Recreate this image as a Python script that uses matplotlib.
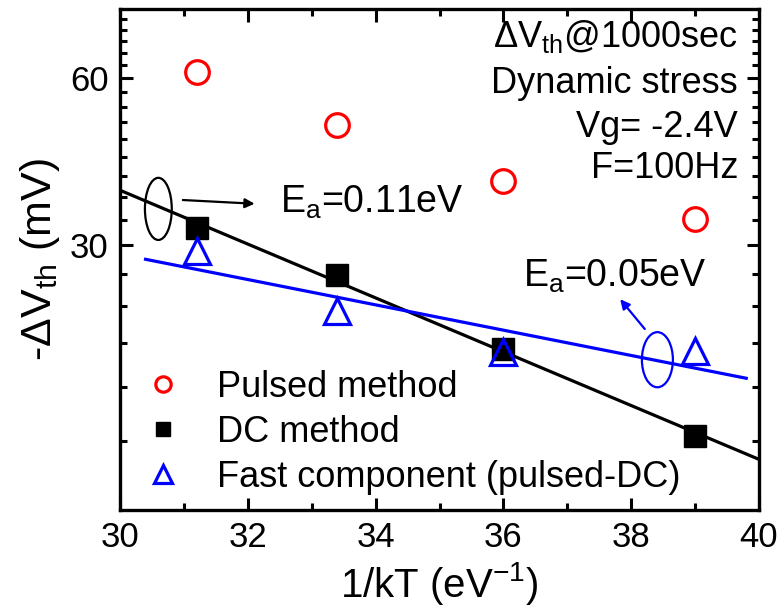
import matplotlib
matplotlib.use("Agg")
import matplotlib.pyplot as plt
import numpy as np
from matplotlib.patches import Ellipse
from matplotlib.ticker import FixedLocator, FixedFormatter, NullFormatter

plt.rcParams['font.family'] = ['Liberation Sans', 'DejaVu Sans']
plt.rcParams['mathtext.default'] = 'regular'

# 1/kT values (eV^-1)
inv_kT = [31.2, 33.4, 36.0, 39.0]
# -dVth at 1000 s (mV)
pulsed = [61.6, 49.4, 39.2, 33.4]
dc = [32.2, 26.5, 19.5, 13.6]
fast = [29.3, 22.8, 19.3, 19.35]

labels = ['Pulsed method', 'DC method', 'Fast component (pulsed-DC)']
info_lines = [r'$\Delta$V$_{th}$@1000sec', 'Dynamic stress', 'Vg= -2.4V', 'F=100Hz']

fig = plt.figure(figsize=(7.8, 6.1), dpi=100)
ax = fig.add_axes([120 / 780, 100 / 610, 639 / 780, 501 / 610])

# Arrhenius fits: ln(dVth) = a - Ea * (1/kT)
x = np.array(inv_kT)
p_dc = np.polyfit(x, np.log(dc), 1)
p_fast = np.polyfit(x, np.log(fast), 1)
xl_dc = np.linspace(30, 40, 50)
xl_fast = np.linspace(30.4, 39.8, 50)
ax.plot(xl_dc, np.exp(np.polyval(p_dc, xl_dc)), color='black', lw=2.3, zorder=2)
ax.plot(xl_fast, np.exp(np.polyval(p_fast, xl_fast)), color='#0000ff', lw=2.3, zorder=2)

ax.plot(inv_kT, pulsed, 'o', ms=17, mfc='none', mec='#ff0000', mew=2.3,
        ls='none', label=labels[0], zorder=3)
ax.plot(inv_kT, dc, 's', ms=16, color='black', ls='none', label=labels[1], zorder=3)
ax.plot(inv_kT, fast, '^', ms=19, mfc='none', mec='#0000ff', mew=2.3,
        ls='none', label=labels[2], zorder=4)

ax.set_yscale('log')
ax.set_xlim(30, 40)
ax.set_ylim(10, 80)
ax.set_xticks(np.arange(30, 41, 2))
ax.set_xticks(np.arange(31, 40, 2), minor=True)
ax.yaxis.set_major_locator(FixedLocator([30, 60]))
ax.yaxis.set_major_formatter(FixedFormatter(['30', '60']))
minor_y = [v for v in np.arange(10 + 10 / 3, 80, 10 / 3) if abs(v - 30) > 0.1 and abs(v - 60) > 0.1]
ax.yaxis.set_minor_locator(FixedLocator(minor_y))
ax.yaxis.set_minor_formatter(NullFormatter())

ax.tick_params(which='both', direction='in', top=True, right=True, width=2.2,
               labelsize=25)
ax.tick_params(which='major', length=9, pad=8)
ax.tick_params(which='minor', length=5)
for s in ax.spines.values():
    s.set_linewidth(2.4)

ax.set_xlabel('1/kT (eV$^{-1}$)', fontsize=29, labelpad=4)
ax.set_ylabel(r'-$\Delta$V$_{th}$ (mV)', fontsize=31, labelpad=6)

leg = ax.legend(loc='lower left', bbox_to_anchor=(0.044, 0.03), frameon=False,
                fontsize=26, markerscale=0.65, handlelength=0.85, handletextpad=1.05,
                labelspacing=0.28, borderpad=0, borderaxespad=0)

# condition text, right-aligned in the upper right corner
info_y = [0.925, 0.833, 0.745, 0.663]
for txt, yy in zip(info_lines, info_y):
    ax.text(0.967, yy, txt, transform=ax.transAxes, ha='right', va='baseline', fontsize=26)

# activation energy annotations
ax.add_patch(Ellipse((0.060, 0.601), 0.042, 0.124, transform=ax.transAxes,
                     fill=False, ec='black', lw=1.6, zorder=5))
ax.annotate('', xy=(0.215, 0.611), xytext=(0.094, 0.619), xycoords='axes fraction',
            arrowprops=dict(arrowstyle='-|>', color='black', lw=1.6, mutation_scale=14))
ax.text(0.25, 0.593, 'E$_a$=0.11eV', transform=ax.transAxes, ha='left', va='baseline', fontsize=27)

ax.add_patch(Ellipse((0.841, 0.300), 0.0485, 0.110, transform=ax.transAxes,
                     fill=False, ec='#0000ff', lw=1.6, zorder=5))
ax.annotate('', xy=(0.780, 0.425), xytext=(0.824, 0.357), xycoords='axes fraction',
            arrowprops=dict(arrowstyle='-|>', color='#0000ff', lw=1.6, mutation_scale=14))
ax.text(0.631, 0.445, 'E$_a$=0.05eV', transform=ax.transAxes, ha='left', va='baseline', fontsize=27)

fig.savefig('out.png', dpi=100)
